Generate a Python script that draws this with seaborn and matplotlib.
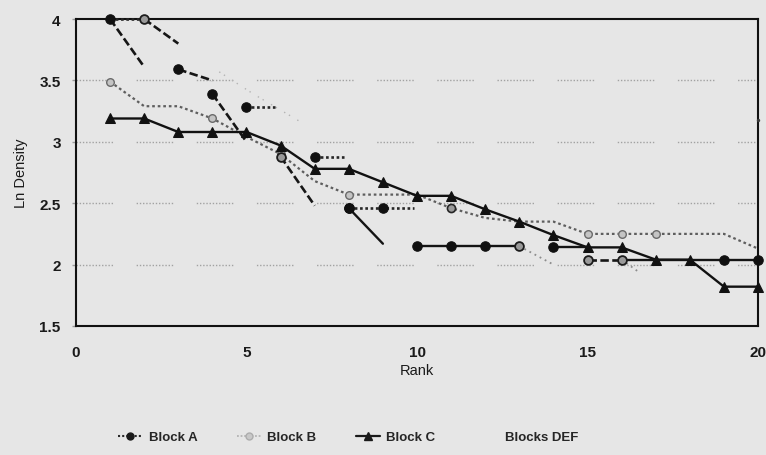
import matplotlib
matplotlib.use("Agg")
import matplotlib.pyplot as plt
from matplotlib.lines import Line2D
import pandas as pd
import seaborn as sns

# ---- data -------------------------------------------------------------
rank_ticks = [0, 5, 10, 15, 20]
density_ticks = [1.5, 2, 2.5, 3, 3.5, 4]
density_tick_labels = ["1.5", "2", "2.5", "3", "3.5", "4"]

legend_labels = ["Block A", "Block B", "Block C", "Blocks DEF"]

# Block C: one continuous ranked series
c_rank = list(range(1, 21))
c_value = [3.19, 3.19, 3.08, 3.08, 3.08, 2.97, 2.78, 2.78, 2.67, 2.56,
           2.56, 2.45, 2.35, 2.24, 2.14, 2.14, 2.04, 2.04, 1.82, 1.82]

# Block B: one continuous ranked series
b_rank = list(range(1, 21))
b_value = [3.49, 3.29, 3.29, 3.19, 3.04, 2.90, 2.68, 2.57, 2.57, 2.57,
           2.46, 2.38, 2.35, 2.35, 2.25, 2.25, 2.25, 2.25, 2.25, 2.13]

# Block A: broken into short runs
a_run = [1, 1, 2, 2, 3, 3, 4, 4, 5, 5, 6, 6, 7, 7, 8, 8, 9, 9,
         10, 10, 10, 11, 11, 11, 11, 12, 12, 13, 13, 14, 14,
         15, 15, 15, 15, 15, 16, 16]
a_rank = [1, 2, 1, 2, 2, 3, 3, 4, 4, 5, 5, 5.9, 6, 7, 7, 7.9, 8, 9,
          8, 9, 9.9, 10, 11, 12, 13, 13, 14, 14, 15, 15, 16,
          16, 17, 18, 19, 20, 16, 16.5]
a_value = [4.00, 3.61, 4.00, 4.00, 4.00, 3.80, 3.59, 3.50, 3.39, 3.00,
           3.28, 3.28, 2.88, 2.48, 2.88, 2.88, 2.46, 2.17,
           2.46, 2.46, 2.46, 2.15, 2.15, 2.15, 2.15, 2.15, 2.00,
           2.14, 2.14, 2.04, 2.04, 2.04, 2.04, 2.04, 2.04, 2.04,
           2.04, 1.94]

# Blocks DEF: faint fragments
d_run = [1, 1, 1, 2]
d_rank = [4.2, 5.2, 6.6, 20]
d_value = [3.57, 3.39, 3.16, 3.18]

# ---- styling ----------------------------------------------------------
a_mark = ["o", "", "", "r", "", "", "o", "", "o", "", "o", "", "r", "",
          "o", "", "o", "", "o", "o", "", "o", "o", "o", "r", "", "",
          "o", "", "r", "r", "", "", "", "o", "o", "", ""]
a_run_style = {1: "dash", 2: "dot", 3: "dash", 4: "dash", 5: "dash",
               6: "dot", 7: "dash", 8: "dot", 9: "solid", 10: "dot",
               11: "solid", 12: "faint", 13: "solid", 14: "dash",
               15: "solid", 16: "faint"}
b_mark = ["r", "", "", "r", "", "r", "", "r", "", "", "k", "", "", "",
          "r", "r", "r", "", "", ""]

line_styles = {
    "dash": dict(color="#161616", lw=1.9, ls=(0, (3.2, 1.3))),
    "dot": dict(color="#262626", lw=1.9, ls=(0, (1.0, 1.0))),
    "solid": dict(color="#141414", lw=1.7, ls="-"),
    "faint": dict(color="#8c8c8c", lw=1.3, ls=(0, (1.0, 2.2))),
}

BG = "#e6e6e6"

sns.set_theme(style="white")
plt.rcParams["font.family"] = ["Liberation Sans", "DejaVu Sans"]

fig = plt.figure(figsize=(7.66, 4.56), dpi=100, facecolor=BG)
ax = fig.add_axes([0.0992, 0.283, 0.8904, 0.673])
ax.set_facecolor(BG)

# broken dotted gridlines
grid_dash = (0, [1.0, 1.3] * 11 + [1.0, 17.0])
for gy in density_ticks[1:-1]:
    ax.axhline(gy, color="#a2a2a2", lw=1.0, ls=grid_dash, zorder=1)

# Block B
b_df = pd.DataFrame({"rank": b_rank, "value": b_value, "mark": b_mark})
sns.lineplot(data=b_df, x="rank", y="value", ax=ax, sort=False,
             estimator=None, color="#5e5e5e", lw=1.6,
             ls=(0, (1.2, 1.3)), zorder=3)
sns.scatterplot(data=b_df[b_df["mark"] == "r"], x="rank", y="value", ax=ax,
                marker="o", s=30, color="#c4c4c4", edgecolor="#6a6a6a",
                linewidth=1.0, zorder=4, clip_on=False, legend=False)
sns.scatterplot(data=b_df[b_df["mark"] == "k"], x="rank", y="value", ax=ax,
                marker="o", s=34, color="#9a9a9a", edgecolor="#262626",
                linewidth=1.2, zorder=4, clip_on=False, legend=False)

# Blocks DEF
d_df = pd.DataFrame({"run": d_run, "rank": d_rank, "value": d_value})
sns.lineplot(data=d_df[d_df["run"] == 1], x="rank", y="value", ax=ax,
             sort=False, estimator=None, color="#b4b4b4", lw=1.0,
             ls=(0, (1.0, 3.0, 1.0, 6.0)), zorder=2)
sns.scatterplot(data=d_df[d_df["run"] == 2], x="rank", y="value", ax=ax,
                marker="o", s=6, color="#3a3a3a", linewidth=0, zorder=4,
                clip_on=False, legend=False)

# Block C
c_df = pd.DataFrame({"rank": c_rank, "value": c_value})
sns.lineplot(data=c_df, x="rank", y="value", ax=ax, sort=False,
             estimator=None, color="#111111", lw=1.7, marker="^",
             markersize=7, markeredgecolor="#111111", zorder=5,
             clip_on=False)

# Block A
a_df = pd.DataFrame({"run": a_run, "rank": a_rank, "value": a_value,
                     "mark": a_mark})
for run_id, part in a_df.groupby("run", sort=True):
    st = line_styles[a_run_style[run_id]]
    sns.lineplot(data=part, x="rank", y="value", ax=ax, sort=False,
                 estimator=None, color=st["color"], lw=st["lw"],
                 ls=st["ls"], zorder=6, clip_on=False)
sns.scatterplot(data=a_df[a_df["mark"] == "o"], x="rank", y="value", ax=ax,
                marker="o", s=46, color="#101010", edgecolor="#101010",
                linewidth=0.8, zorder=7, clip_on=False, legend=False)
sns.scatterplot(data=a_df[a_df["mark"] == "r"], x="rank", y="value", ax=ax,
                marker="o", s=40, color="#9a9a9a", edgecolor="#1c1c1c",
                linewidth=1.3, zorder=7, clip_on=False, legend=False)

# ---- axes -------------------------------------------------------------
ax.set_xlim(rank_ticks[0], rank_ticks[-1])
ax.set_ylim(density_ticks[0], density_ticks[-1])
ax.set_xticks(rank_ticks)
ax.set_xticklabels([str(t) for t in rank_ticks], fontsize=11,
                   fontweight="bold", color="#1a1a1a")
ax.set_yticks(density_ticks)
ax.set_yticklabels(density_tick_labels, fontsize=11, fontweight="bold",
                   color="#1a1a1a")
ax.tick_params(axis="x", length=0, pad=13.5)
ax.tick_params(axis="y", length=3, width=1, color="#9a9a9a", pad=8,
               left=True)
ax.set_xlabel("Rank", fontsize=10.5, color="#1a1a1a", labelpad=3)
ax.set_ylabel("Ln Density", fontsize=10.5, color="#1a1a1a", labelpad=8)
for sp in ax.spines.values():
    sp.set_visible(True)
    sp.set_color("#111111")
    sp.set_linewidth(1.5)

handles = [
    Line2D([], [], color="#2a2a2a", lw=1.5, ls=(0, (1, 1)), marker="o",
           markersize=5, markerfacecolor="#1a1a1a",
           markeredgecolor="#1a1a1a"),
    Line2D([], [], color="#b4b4b4", lw=1.3, ls=(0, (1, 1)), marker="o",
           markersize=5, markerfacecolor="#c8c8c8",
           markeredgecolor="#adadad"),
    Line2D([], [], color="#1a1a1a", lw=1.6, marker="^", markersize=6,
           markerfacecolor="#1a1a1a", markeredgecolor="#1a1a1a"),
    Line2D([], [], color="none"),
]
fig.legend(handles, legend_labels, loc="center",
           bbox_to_anchor=(0.455, 0.039), ncol=4, frameon=False,
           handlelength=1.8, handletextpad=0.5, columnspacing=3.0,
           prop={"size": 9.5, "weight": "bold"})

fig.savefig("out.png", dpi=100, facecolor=BG)
